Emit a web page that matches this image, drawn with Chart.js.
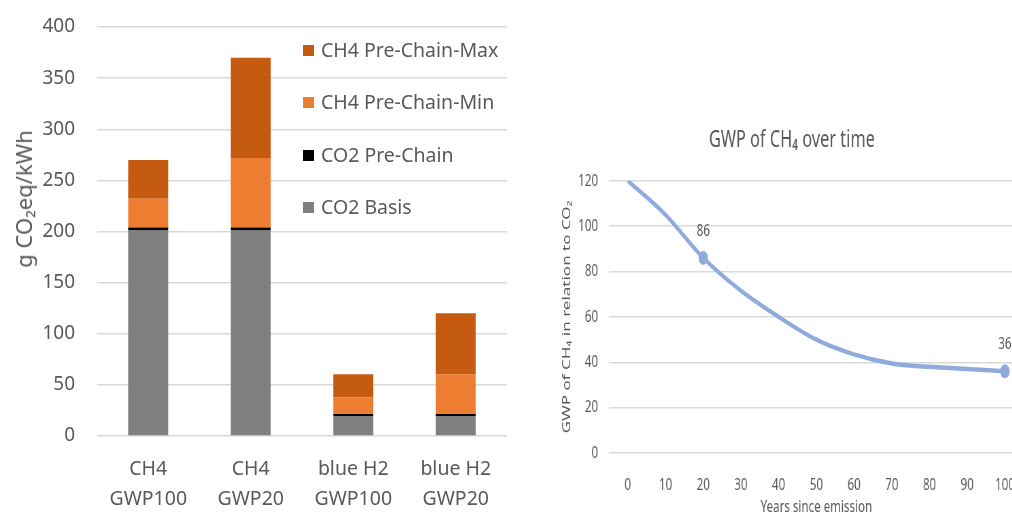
<!DOCTYPE html>
<html>
<head>
<meta charset="utf-8">
<script src="https://cdn.jsdelivr.net/npm/chart.js@4/dist/chart.umd.min.js"></script>
<style>
  html, body { margin: 0; padding: 0; background: #fff; }
  body { position: relative; width: 1012px; height: 513px; overflow: hidden; font-family: "Noto Sans", sans-serif; }
  #barChart { position: absolute; left: 0; top: 0; }
  #gwpChart { position: absolute; left: 560px; top: 0; transform: scaleX(0.68); transform-origin: 0 0; }
  #barTitle {
    position: absolute; left: 23px; top: 199px; color: #595959; font-size: 22px; white-space: nowrap;
    transform: translate(-50%, -50%) rotate(-90deg);
  }
  .legend-item { position: absolute; left: 303px; color: #595959; font-size: 19.5px; line-height: 24px; white-space: nowrap; }
  .legend-item span { display: inline-block; width: 11px; height: 11px; margin-right: 7px; vertical-align: 1px; }
</style>
</head>
<body>
<canvas id="barChart" width="560" height="513"></canvas>
<canvas id="gwpChart" width="700" height="516"></canvas>
<div id="barTitle">g CO₂eq/kWh</div>
<div id="legend"></div>
<script>
// --- left chart: emissions per kWh ---
const categories = [['CH4', 'GWP100'], ['CH4', 'GWP20'], ['blue H2', 'GWP100'], ['blue H2', 'GWP20']];
const co2Basis = [201, 201, 19.5, 19.5];
const co2PreChain = [3, 3, 2, 2];
const ch4PreChainMin = [28, 68, 16.5, 39];
const ch4PreChainMax = [38, 98, 22.5, 59.5];

// --- right chart: GWP of CH4 ---
const years = ['0', '10', '20', '30', '40', '50', '60', '70', '80', '90', '100'];
const gwpValues = [120, 105, 86, 71.5, 60, 50, 43.5, 39.5, 38, 37, 36];
const markedYears = ['20', '100'];

const grey = '#595959';
const gridColor = '#D9D9D9';

const barSeries = [
    { label: 'CO2 Basis', data: co2Basis, color: '#7F7F7F' },
    { label: 'CO2 Pre-Chain', data: co2PreChain, color: '#000000' },
    { label: 'CH4 Pre-Chain-Min', data: ch4PreChainMin, color: '#ED7D31' },
    { label: 'CH4 Pre-Chain-Max', data: ch4PreChainMax, color: '#C55A11' }
];

// legend (top item = last series)
const legendTops = [38, 90, 143, 195];
const legendBox = document.getElementById('legend');
barSeries.slice().reverse().forEach((s, i) => {
    const item = document.createElement('div');
    item.className = 'legend-item';
    item.style.top = legendTops[i] + 'px';
    item.innerHTML = `<span style="background:${s.color}"></span>${s.label}`;
    legendBox.appendChild(item);
});

new Chart(document.getElementById('barChart'), {
    type: 'bar',
    data: {
        labels: categories,
        datasets: barSeries.map(s => ({
            label: s.label, data: s.data, backgroundColor: s.color,
            barPercentage: 0.39, categoryPercentage: 1
        }))
    },
    options: {
        responsive: false, animation: false, devicePixelRatio: 1,
        layout: { padding: { top: 27, right: 53, left: 0, bottom: 0 } },
        plugins: { legend: { display: false }, tooltip: { enabled: false } },
        scales: {
            x: {
                stacked: true,
                grid: { display: false },
                border: { display: false },
                ticks: { color: grey, padding: 10, font: { family: 'Noto Sans', size: 19.5, lineHeight: 1.54 }, maxRotation: 0 },
                afterFit: s => { s.height = 77; }
            },
            y: {
                stacked: true, min: 0, max: 400,
                grid: { color: gridColor, lineWidth: 1.5, drawTicks: false },
                border: { display: false },
                ticks: { stepSize: 50, color: grey, padding: 22, font: { family: 'Noto Sans', size: 19 } },
                afterFit: s => { s.width = 97; s.paddingTop = 0; s.paddingBottom = 0; }
            }
        }
    }
});

const pointLabels = {
    id: 'pointLabels',
    afterDatasetsDraw(chart) {
        const ctx = chart.ctx;
        const meta = chart.getDatasetMeta(0);
        ctx.save();
        ctx.fillStyle = grey;
        ctx.font = '17px "Noto Sans"';
        ctx.textAlign = 'center';
        ctx.textBaseline = 'middle';
        markedYears.forEach(yr => {
            const i = years.indexOf(yr);
            const pt = meta.data[i];
            ctx.fillText(String(gwpValues[i]), pt.x, pt.y - 27);
        });
        ctx.restore();
    }
};

new Chart(document.getElementById('gwpChart'), {
    type: 'line',
    data: {
        labels: years,
        datasets: [{
            data: gwpValues,
            borderColor: '#8FAADC', backgroundColor: '#8FAADC', borderWidth: 4.5,
            cubicInterpolationMode: 'monotone',
            pointRadius: c => markedYears.includes(years[c.dataIndex]) ? 7 : 0,
            pointBorderWidth: 0
        }]
    },
    plugins: [pointLabels],
    options: {
        responsive: false, animation: false, devicePixelRatio: 1,
        layout: { padding: { top: 0, right: 18, left: 0, bottom: 0 } },
        plugins: {
            legend: { display: false }, tooltip: { enabled: false },
            title: {
                display: true, text: 'GWP of CH₄ over time', color: grey,
                font: { family: 'Noto Sans', size: 24, weight: 'normal', lineHeight: 1.2 },
                padding: { top: 126, bottom: 26 }
            }
        },
        scales: {
            x: {
                offset: true,
                grid: { display: false, offset: true },
                border: { display: false },
                ticks: { color: grey, padding: 14, font: { family: 'Noto Sans', size: 17 }, maxRotation: 0 },
                title: { display: true, text: 'Years since emission', color: grey, padding: 0, font: { family: 'Noto Sans', size: 17, lineHeight: 1 } },
                afterFit: s => { s.height = 63; }
            },
            y: {
                min: 0, max: 120,
                grid: { color: gridColor, lineWidth: 1.5, drawTicks: false },
                border: { display: false },
                ticks: { stepSize: 20, color: grey, padding: 16, font: { family: 'Noto Sans', size: 17 } },
                title: { display: true, text: 'GWP of CH₄ in relation to CO₂', color: grey, padding: 0, font: { family: 'Noto Sans', size: 17 } },
                afterFit: s => { s.width = 72; }
            }
        }
    }
});
</script>
</body>
</html>
